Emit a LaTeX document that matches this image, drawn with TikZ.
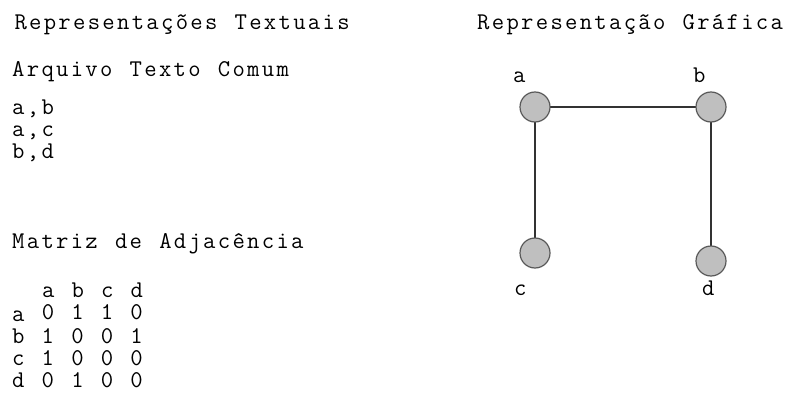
\documentclass[tikz,border=0pt]{standalone}
\usepackage{fontspec}
% wide monospaced pitch: extra kern after every letter
\XeTeXinterchartoks 0 0 = {\kern2.3pt\relax}
\XeTeXinterchartoks 0 4095 = {\kern2.3pt\relax}
\newcommand\widetype{\ttfamily\fontsize{24}{22}\selectfont\XeTeXinterchartokenstate=1\relax\spaceskip=14.9pt\relax}
\begin{document}
\begin{tikzpicture}[x=1pt, y=-1pt, font=\widetype, line join=round, line cap=round]
	\tikzset{txt/.style={anchor=base west, inner sep=0pt},
		vertex/.style={circle, draw=black!65, fill=gray!50, line width=1.2pt, minimum size=30pt, inner sep=0pt},
		edge/.style={line width=1.2pt, black!80}}
	\useasboundingbox (0,0) rectangle (790,396);
	\def\xl{12} \def\dy{22}
	% textual forms
	\node[txt] (titA) at (\xl,30) {Representações Textuais};
	\node[txt] (arq) at (\xl,77) {Arquivo Texto Comum};
	\foreach \s [count=\i] in {{a,b},{a,c},{b,d}} \node[txt] (lin\i) at (\xl,{92+\dy*\i}) {\s};
	\node[txt] (mat) at (\xl,248) {Matriz de Adjacência};
	\node[txt] (cab) at (\xl+29.8,297) {a b c d};
	\foreach \s [count=\i] in {a \raisebox{2pt}{0 1 1 0}, b 1 0 0 1, c 1 0 0 0, d 0 1 0 0} \node[txt] (row\i) at (\xl,{299+\dy*\i}) {\s};
	% graph
	\node[txt] (titB) at (477,30) {Representação Gráfica};
	\foreach \n/\x/\y in {a/535/107, b/711/107, c/535/253, d/711/261} \node[vertex] (\n) at (\x,\y) {};
	\foreach \n/\x/\y in {a/513/83, b/693/83, c/514/295, d/702/295} \node[txt] (l\n) at (\x,\y) {\n};
	\draw[edge] (a)--(b) (a)--(c) (b)--(d);
\end{tikzpicture}
\end{document}
